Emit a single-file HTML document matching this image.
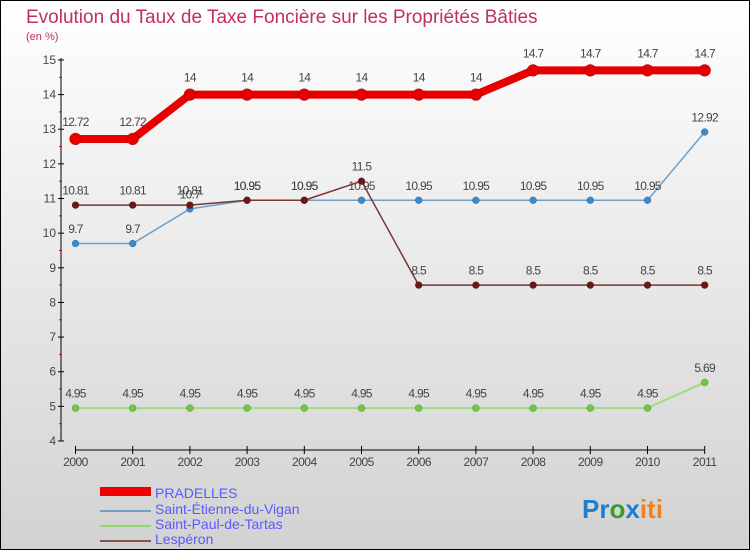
<!DOCTYPE html>
<html><head><meta charset="utf-8"><style>
body{margin:0}
#c{width:750px;height:550px;position:relative;overflow:hidden}
svg text{font-family:"Liberation Sans",sans-serif}
</style></head><body>
<div id="c">
<svg id="s" width="750" height="550" xmlns="http://www.w3.org/2000/svg">
<defs><linearGradient id="bg" x1="0" y1="0" x2="0" y2="1"><stop offset="0" stop-color="#ffffff"/><stop offset="1" stop-color="#d2d2d2"/></linearGradient></defs>
<rect x="0.5" y="0.5" width="749" height="549" fill="url(#bg)" stroke="#000"/>
<text x="26" y="23" font-size="19" fill="#c0305a">Evolution du Taux de Taxe Foncière sur les Propriétés Bâties</text>
<text x="26" y="40" font-size="11" fill="#c0305a">(en %)</text>
<g id="axes"></g><g id="series"></g>
<g>
<rect x="100" y="487" width="51" height="9" fill="#e00"/>
<text x="155" y="498" font-size="14" fill="#5a5aff">PRADELLES</text>
<rect x="100" y="510" width="51" height="2" fill="#6ea0c8"/>
<text x="155" y="514" font-size="14" fill="#5a5aff">Saint-Étienne-du-Vigan</text>
<rect x="100" y="525" width="51" height="2" fill="#90d870"/>
<text x="155" y="529" font-size="14" fill="#5a5aff">Saint-Paul-de-Tartas</text>
<rect x="100" y="540" width="51" height="2" fill="#8a5050"/>
<text x="155" y="544" font-size="14" fill="#5a5aff">Lespéron</text>
</g>
<text x="582" y="518" font-size="26" font-weight="bold"><tspan fill="#1a7fd0">Pr</tspan><tspan fill="#3a9a30">o</tspan><tspan fill="#1a7fd0">x</tspan><tspan fill="#f08020">iti</tspan></text>
</svg></div>
<script>
const years=["2000","2001","2002","2003","2004","2005","2006","2007","2008","2009","2010","2011"];
const yTicks=[4,5,6,7,8,9,10,11,12,13,14,15];
const pradelles=[12.72,12.72,14,14,14,14,14,14,14.7,14.7,14.7,14.7];
const stEtienne=[9.7,9.7,10.7,10.95,10.95,10.95,10.95,10.95,10.95,10.95,10.95,12.92];
const stPaul=[4.95,4.95,4.95,4.95,4.95,4.95,4.95,4.95,4.95,4.95,4.95,5.69];
const lesperon=[10.81,10.81,10.81,10.95,10.95,11.5,8.5,8.5,8.5,8.5,8.5,8.5];
const NS="http://www.w3.org/2000/svg";
const X=i=>75.5+i*57.2, Y=v=>441-(v-4)*34.64;
function mk(t,a,p){const e=document.createElementNS(NS,t);for(const k in a)e.setAttribute(k,a[k]);p.appendChild(e);return e;}
const ax=document.getElementById('axes'), sg=document.getElementById('series');
let l=mk('line',{x1:61,y1:58,x2:61,y2:441,stroke:'#000'},ax);


yTicks.forEach(v=>{const y=Y(v);
 mk('line',{x1:58,y1:y,x2:64,y2:y,stroke:'#000'},ax);
 if(v<15) mk('line',{x1:59,y1:y-17.3,x2:62,y2:y-17.3,stroke:'#e00'},ax);
 const t=mk('text',{x:56,y:y+4,'font-size':12,fill:'#444','text-anchor':'end'},ax);t.textContent=v;
 
 });
l=mk('line',{x1:75,y1:450,x2:705,y2:450,stroke:'#000'},ax);


years.forEach((yr,i)=>{const x=X(i);mk('line',{x1:x,y1:446,x2:x,y2:454,stroke:'#000'},ax);
 const t=mk('text',{x:x,y:466,'font-size':12,fill:'#444','text-anchor':'middle','letter-spacing':'-0.5'},ax);t.textContent=yr;
 
 });
function series(vals,col,w,r,dot,name){
 const g=mk('g',{},sg);
 
 
 mk('polyline',{points:vals.map((v,i)=>X(i)+','+Y(v)).join(' '),fill:'none',stroke:col,'stroke-width':w,'stroke-linejoin':'round'},g);
 vals.forEach((v,i)=>{const c=mk('circle',{cx:X(i),cy:Y(v),r:r,fill:dot,stroke:'rgba(0,0,0,0.3)','stroke-width':0.5},g);
  
  
  const t=mk('text',{x:X(i),y:Y(v)-(r+7),'font-size':12,fill:'#444','text-anchor':'middle','letter-spacing':'-0.7'},g);t.textContent=String(v);
  
  });
}
series(stPaul,'#a0dc80',2,3.5,'#70c840','saint-paul');
series(stEtienne,'#6ea0c8',1.5,3.5,'#3a8ad0','saint-etienne');
series(lesperon,'#7a3535',1.5,3.5,'#6a1818','lesperon');
series(pradelles,'#e80000',8,6,'#e80000','pradelles');
</script>
</body></html>
